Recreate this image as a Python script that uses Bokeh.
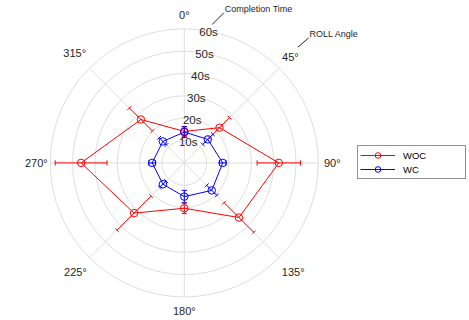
import numpy as np
from bokeh.plotting import figure
from bokeh.models import Range1d, Legend, LegendItem
from bokeh.core.properties import value
from bokeh.embed import file_html
from bokeh.resources import INLINE

# ---------------- data ----------------
angles_deg = [0, 45, 90, 135, 180, 225, 270, 315]
woc = [14.1, 22.3, 42.3, 34.6, 20.3, 31.8, 46.2, 27.5]
woc_err = [2.2, 6.4, 9.7, 9.4, 2.4, 10.8, 11.6, 7.3]
wc = [13.8, 14.9, 17.2, 17.4, 15.1, 13.5, 14.4, 13.6]
wc_err = [2.4, 3.2, 1.5, 3.2, 2.8, 2.0, 1.5, 2.3]

r_ticks = [10, 20, 30, 40, 50, 60]
r_tick_labels = ["10s", "20s", "30s", "40s", "50s", "60s"]
theta_ticks = [0, 45, 90, 135, 180, 225, 270, 315]
theta_tick_labels = ["0°", "45°", "90°", "135°", "180°", "225°", "270°", "315°"]

series_names = ["WOC", "WC"]
series_colors = ["#ff0000", "#0000ff"]

# ---------------- layout constants ----------------
W, H = 469, 320
CX, CY = 183.8, 162.4          # polar centre inside the frame (px from left / top)
R_MAX = 60.0
PX = 134.0 / R_MAX             # pixels per second
FONT = "Liberation Sans"
TXT = "#262626"
GRID = "#dedede"
CAP = 2.6                      # half-length of error bar caps (px)
LABEL_R_PX = [148, 150, 148, 154, 148, 154, 148, 155]  # angle label distance (px)


def polar(r, deg):
    t = np.radians(np.asarray(deg, dtype=float))
    r = np.asarray(r, dtype=float) * PX
    return r * np.sin(t), r * np.cos(t)


p = figure(width=W, height=H,
           x_range=Range1d(-CX, W - CX), y_range=Range1d(CY - H, CY),
           x_axis_type=None, y_axis_type=None, min_border=0,
           outline_line_color=None, toolbar_location=None,
           output_backend="svg", background_fill_color="white")

# ---------------- polar grid ----------------
p.circle(x=[0] * len(r_ticks), y=[0] * len(r_ticks),
         radius=[r * PX for r in r_ticks],
         fill_color=None, line_color=GRID, line_width=1)
sx, sy = polar([R_MAX] * len(theta_ticks), theta_ticks)
p.segment(x0=[0] * len(theta_ticks), y0=[0] * len(theta_ticks), x1=sx, y1=sy,
          line_color=GRID, line_width=1)

# angle labels
lx, ly = polar([rp / PX for rp in LABEL_R_PX], theta_ticks)
p.text(x=lx, y=ly, text=theta_tick_labels, text_align="center",
       text_baseline="middle", text_font=value(FONT),
       text_font_size="11px", text_color=TXT)

# radial tick labels along 10.5 deg
rx, ry = polar([r - 0.5 for r in r_ticks], [10.5] * len(r_ticks))
p.text(x=rx, y=ry, text=r_tick_labels, text_align="center",
       text_baseline="middle", text_font=value(FONT),
       text_font_size="11.5px", text_color=TXT)

# ---------------- series ----------------
legend_items = []
for name, col, vals, errs in zip(series_names, series_colors,
                                 [woc, wc], [woc_err, wc_err]):
    px_, py_ = polar(vals, angles_deg)
    # closed polyline
    ln = p.line(x=list(px_) + [px_[0]], y=list(py_) + [py_[0]],
                line_color=col, line_width=1)
    # error bars
    lo = np.array(vals) - np.array(errs)
    hi = np.array(vals) + np.array(errs)
    x0, y0 = polar(lo, angles_deg)
    x1, y1 = polar(hi, angles_deg)
    p.segment(x0=x0, y0=y0, x1=x1, y1=y1, line_color=col, line_width=1)
    t = np.radians(angles_deg)
    ux, uy = np.cos(t) * CAP, -np.sin(t) * CAP   # perpendicular direction
    for ex, ey in ((x0, y0), (x1, y1)):
        p.segment(x0=ex - ux, y0=ey - uy, x1=ex + ux, y1=ey + uy,
                  line_color=col, line_width=1)
    sc = p.scatter(x=px_, y=py_, marker="circle", size=7.5,
                   fill_color=None, line_color=col, line_width=1)
    legend_items.append(LegendItem(label=name, renderers=[ln, sc]))

# ---------------- annotations ----------------
# positions in pixels relative to the polar centre
p.segment(x0=[27.9], y0=[138.4], x1=[39.5], y1=[150.1], line_color=TXT, line_width=1)
p.text(x=[40.5], y=[153.8], text=["Completion Time"], text_align="left",
       text_baseline="middle", text_font=value(FONT), text_font_size="9px",
       text_color=TXT)
p.segment(x0=[113.5], y0=[115.7], x1=[124.5], y1=[125.1], line_color=TXT, line_width=1)
p.text(x=[125.3], y=[129.1], text=["ROLL Angle"], text_align="left",
       text_baseline="middle", text_font=value(FONT), text_font_size="9px",
       text_color=TXT)

# ---------------- legend ----------------
legend = Legend(items=legend_items, location=(357, 141), orientation="vertical",
                padding=2, spacing=0, margin=0,
                glyph_width=35, glyph_height=14, label_height=14,
                label_standoff=8, label_width=60,
                label_text_font=FONT, label_text_font_size="9.5px",
                label_text_color="black",
                border_line_color="#262626", border_line_width=1,
                background_fill_color="white", background_fill_alpha=1)
p.add_layout(legend)

open("out.html", "w").write(file_html(p, INLINE))
